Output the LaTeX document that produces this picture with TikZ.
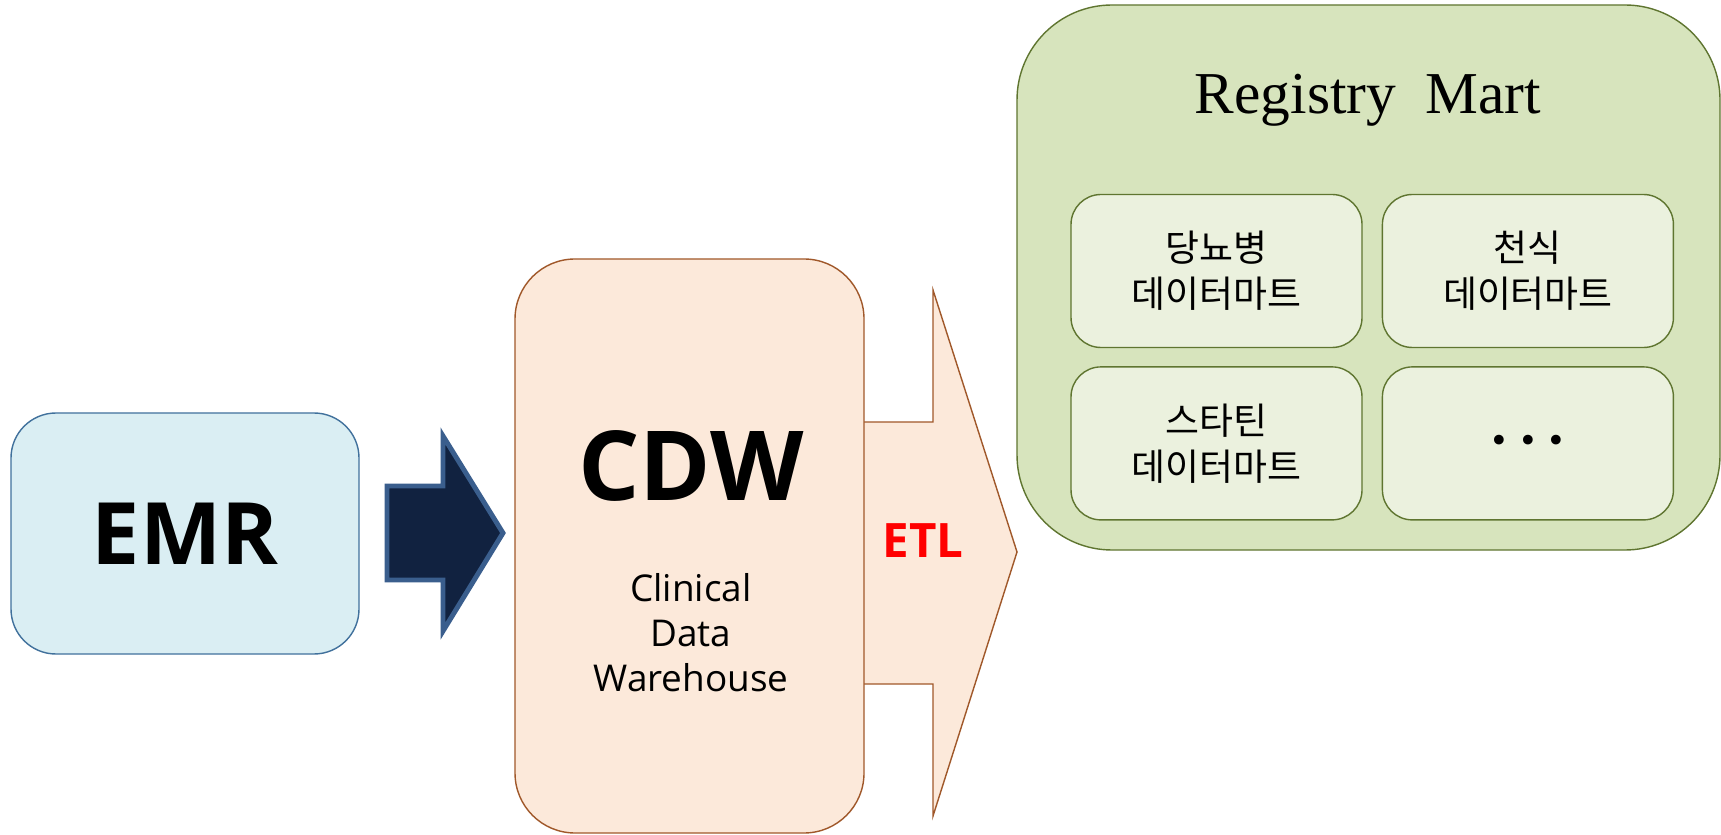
\documentclass[tikz,border=0pt]{standalone}
\usepackage{fontspec}
\setmainfont{Open Sans}
\newfontfamily\titlefont{Liberation Serif}
\newfontfamily\hangul{Noto Sans CJK KR}
\newfontfamily\dotfont{DejaVu Sans}
\usetikzlibrary{positioning}

\definecolor{emrfill}{HTML}{DAEEF3}
\definecolor{emrline}{HTML}{41719C}
\definecolor{navyfill}{HTML}{112240}
\definecolor{navyline}{HTML}{3A5E8D}
\definecolor{cdwfill}{HTML}{FCE9DA}
\definecolor{cdwline}{HTML}{A0582A}
\definecolor{regfill}{HTML}{D7E4BD}
\definecolor{regline}{HTML}{5F7530}
\definecolor{martfill}{HTML}{EBF1DE}

\begin{document}
\begin{tikzpicture}[
  box/.style={draw,rounded corners=#1,inner sep=0pt,align=center},
  mart/.style={box=0.3cm,fill=martfill,draw=regline,line width=0.4pt,
    minimum width=2.91cm,minimum height=1.53cm,
    font=\hangul\fontsize{10.5}{13}\selectfont}]
  \useasboundingbox (0,0) rectangle (17.21,8.34);

  % source
  \node[box=0.45cm,fill=emrfill,draw=emrline,line width=0.4pt,
    minimum width=3.48cm,minimum height=2.41cm,
    font=\fontsize{24.5}{30}\selectfont\bfseries] (emr) at (1.85,3.005) {EMR};

  % block arrow emr -> cdw
  \draw[fill=navyfill,draw=navyline,line width=1.4pt,line join=miter]
    (3.87,3.48)--(4.43,3.48)--(4.43,3.98)--(5.03,3.01)--(4.43,2.03)
    --(4.43,2.54)--(3.87,2.54)--cycle;

  % ETL arrow, open on the cdw side
  \fill[cdwfill] (8.62,4.12)--(9.33,4.12)--(9.33,5.44)--(10.17,2.82)
    --(9.33,0.18)--(9.33,1.50)--(8.62,1.50)--cycle;
  \draw[cdwline,line width=0.4pt] (8.64,4.12)--(9.33,4.12)--(9.33,5.44)
    --(10.17,2.82)--(9.33,0.18)--(9.33,1.50)--(8.64,1.50);
  \node[text=red,font=\fontsize{13.5}{16}\selectfont\bfseries] (etl) at (9.23,2.93) {ETL};

  % warehouse
  \node[box=0.6cm,fill=cdwfill,draw=cdwline,line width=0.4pt,
    minimum width=3.49cm,minimum height=5.74cm] (cdw) at (6.895,2.88) {};
  \node[font=\fontsize{27.5}{32}\selectfont\bfseries] (cdwname) at (6.91,3.68) {CDW};
  \node[align=center,font=\fontsize{10.5}{12.8}\selectfont] (cdwlong) at (6.91,2.01)
    {Clinical\\Data\\Warehouse};

  % registry mart
  \node[box=0.95cm,fill=regfill,draw=regline,line width=0.4pt,
    minimum width=7.03cm,minimum height=5.45cm] (reg) at (13.685,5.565) {};
  \node[anchor=base,font=\titlefont\fontsize{16.9}{20}\selectfont] (regname) at (13.68,7.20)
    {Registry~~Mart};
  \node[mart] (dm1) at (12.165,5.63) {당뇨병\\데이터마트};
  \node[mart,right=0.19cm of dm1] (dm2) {천식\\데이터마트};
  \node[mart,below=0.18cm of dm1] (dm3) {스타틴\\데이터마트};
  \node[mart,below=0.18cm of dm2,font=\dotfont\fontsize{9.5}{10}\selectfont] (dm4)
    {•\hspace{0.27em}•\hspace{0.27em}•};
\end{tikzpicture}
\end{document}
